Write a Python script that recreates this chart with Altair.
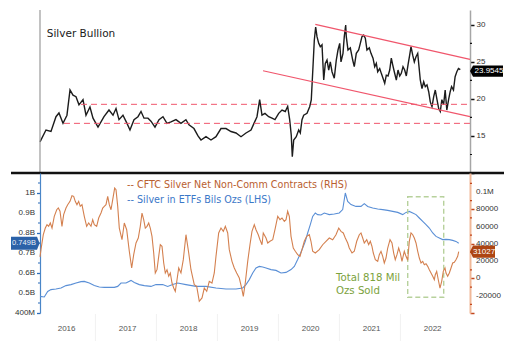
import altair as alt
import pandas as pd

# ---------------- data (time in decimal years) ----------------
price_t = [2016.092, 2016.190, 2016.272, 2016.354, 2016.403, 2016.469, 2016.534, 2016.584, 2016.633, 2016.682,
           2016.731, 2016.797, 2016.846, 2016.911, 2016.961, 2017.043, 2017.141, 2017.223, 2017.289, 2017.338,
           2017.387, 2017.452, 2017.518, 2017.567, 2017.633, 2017.698, 2017.748, 2017.797, 2017.862, 2017.911,
           2017.977, 2018.043, 2018.108, 2018.174, 2018.239, 2018.321, 2018.403, 2018.484, 2018.534, 2018.616,
           2018.682, 2018.731, 2018.813, 2018.895, 2018.977, 2019.059, 2019.141, 2019.223, 2019.305, 2019.387,
           2019.469, 2019.551, 2019.600, 2019.649, 2019.693, 2019.731, 2019.780, 2019.841, 2019.895, 2019.944,
           2020.005, 2020.059, 2020.113, 2020.152, 2020.185, 2020.211, 2020.228, 2020.251, 2020.293, 2020.333,
           2020.359, 2020.387, 2020.415, 2020.469, 2020.513, 2020.539, 2020.567, 2020.589, 2020.611, 2020.633,
           2020.661, 2020.687, 2020.715, 2020.743, 2020.769, 2020.797, 2020.825, 2020.851, 2020.879, 2020.916,
           2020.949, 2020.977, 2021.005, 2021.026, 2021.059, 2021.080, 2021.103, 2021.113, 2021.141, 2021.179,
           2021.218, 2021.244, 2021.277, 2021.316, 2021.343, 2021.370, 2021.398, 2021.425, 2021.452, 2021.490,
           2021.518, 2021.551, 2021.579, 2021.605, 2021.628, 2021.661, 2021.687, 2021.715, 2021.743, 2021.769,
           2021.797, 2021.825, 2021.851, 2021.874, 2021.900, 2021.933, 2021.961, 2021.989, 2022.015, 2022.043,
           2022.070, 2022.097, 2022.125, 2022.152, 2022.174, 2022.202, 2022.228, 2022.256, 2022.284, 2022.305,
           2022.326, 2022.354, 2022.382, 2022.408, 2022.436, 2022.464, 2022.490, 2022.518, 2022.546, 2022.572,
           2022.600, 2022.628, 2022.654, 2022.680, 2022.708, 2022.734, 2022.761, 2022.790, 2022.816, 2022.839,
           2022.870, 2022.897, 2022.925, 2022.952, 2022.982]
price_v = [14.2, 15.8, 15.6, 17.6, 18.1, 16.7, 17.8, 21.2, 20.5, 20.3,
           19.2, 19.9, 17.8, 18.9, 17.4, 16.2, 17.6, 18.5, 17.8, 18.7,
           17.2, 17.8, 16.7, 15.8, 17.2, 17.6, 18.3, 17.4, 17.4, 17.0,
           16.2, 17.2, 17.6, 16.7, 16.9, 17.2, 16.7, 17.2, 16.5, 16.0,
           15.0, 14.45, 14.9, 14.45, 14.9, 16.0, 16.0, 15.6, 15.4, 14.9,
           15.4, 15.8, 16.7, 17.6, 19.9, 17.8, 18.05, 17.6, 17.4, 17.2,
           18.05, 18.5, 18.3, 19.0, 17.2, 15.1, 12.2, 14.45, 14.9, 15.8,
           15.4, 17.2, 17.8, 18.05, 18.95, 19.85, 24.35, 27.95, 29.7, 28.4,
           27.5, 27.05, 27.3, 22.55, 24.8, 25.25, 23.9, 25.0, 23.67, 22.8,
           25.25, 26.6, 27.5, 25.0, 26.15, 28.4, 29.97, 28.4, 26.6, 26.9,
           25.25, 24.35, 26.15, 26.6, 27.5, 28.4, 28.6, 28.2, 26.6, 26.9,
           26.15, 25.5, 24.35, 24.8, 23.67, 24.1, 23.45, 22.8, 22.1, 23.2,
           23.1, 23.9, 25.5, 24.6, 23.67, 22.55, 23.9, 23.1, 23.45, 24.35,
           23.9, 23.1, 24.6, 25.9, 27.05, 25.9, 25.0, 25.7, 26.15, 24.35,
           22.55, 21.4, 22.3, 21.65, 21.9, 20.97, 19.6, 18.95, 20.3, 21.2,
           19.9, 18.7, 18.3, 19.9, 19.2, 21.2, 18.5, 19.9, 20.97, 21.65,
           21.2, 23.0, 23.67, 24.1, 23.95]

cftc_t = [2016.092, 2016.108, 2016.146, 2016.179, 2016.207, 2016.234, 2016.261, 2016.289, 2016.326, 2016.366,
          2016.392, 2016.420, 2016.452, 2016.480, 2016.518, 2016.546, 2016.584, 2016.616, 2016.644, 2016.670,
          2016.698, 2016.726, 2016.752, 2016.780, 2016.818, 2016.857, 2016.890, 2016.928, 2016.956, 2016.982,
          2017.021, 2017.054, 2017.092, 2017.120, 2017.146, 2017.174, 2017.202, 2017.228, 2017.256, 2017.284,
          2017.316, 2017.338, 2017.366, 2017.392, 2017.436, 2017.474, 2017.513, 2017.556, 2017.595, 2017.628,
          2017.666, 2017.703, 2017.736, 2017.764, 2017.792, 2017.818, 2017.846, 2017.874, 2017.900, 2017.928,
          2017.956, 2017.982, 2018.010, 2018.038, 2018.064, 2018.092, 2018.120, 2018.146, 2018.174, 2018.202,
          2018.228, 2018.256, 2018.284, 2018.310, 2018.338, 2018.366, 2018.403, 2018.441, 2018.485, 2018.530,
          2018.567, 2018.621, 2018.661, 2018.703, 2018.748, 2018.785, 2018.825, 2018.867, 2018.911, 2018.949,
          2018.977, 2019.021, 2019.059, 2019.097, 2019.130, 2019.169, 2019.195, 2019.239, 2019.277, 2019.316,
          2019.359, 2019.398, 2019.425, 2019.457, 2019.497, 2019.534, 2019.567, 2019.605, 2019.633, 2019.670,
          2019.698, 2019.731, 2019.752, 2019.797, 2019.825, 2019.862, 2019.907, 2019.949, 2019.989, 2020.026,
          2020.059, 2020.097, 2020.125, 2020.152, 2020.179, 2020.207, 2020.244, 2020.277, 2020.316, 2020.354,
          2020.387, 2020.425, 2020.464, 2020.507, 2020.534, 2020.562, 2020.605, 2020.670, 2020.726, 2020.780,
          2020.834, 2020.890, 2020.944, 2020.989, 2021.026, 2021.064, 2021.097, 2021.136, 2021.162, 2021.207,
          2021.244, 2021.284, 2021.326, 2021.354, 2021.382, 2021.408, 2021.448, 2021.480, 2021.507, 2021.534,
          2021.556, 2021.589, 2021.628, 2021.654, 2021.682, 2021.710, 2021.736, 2021.764, 2021.792, 2021.830,
          2021.862, 2021.890, 2021.916, 2021.944, 2021.972, 2021.998, 2022.026, 2022.064, 2022.092, 2022.120,
          2022.146, 2022.174, 2022.202, 2022.228, 2022.256, 2022.284, 2022.310, 2022.338, 2022.366, 2022.392,
          2022.420, 2022.448, 2022.474, 2022.502, 2022.530, 2022.556, 2022.572, 2022.595, 2022.621, 2022.649,
          2022.677, 2022.703, 2022.731, 2022.748, 2022.775, 2022.802, 2022.830, 2022.857, 2022.884, 2022.911,
          2022.939, 2022.956]
cftc_v = [25000, 33300, 50600, 58300, 62200, 60300, 64100, 58300, 71900, 79500,
          81500, 77700, 60300, 73800, 81500, 85300, 89200, 95700, 95000, 89200,
          85300, 89200, 83400, 85300, 71900, 60300, 64100, 60300, 68000, 62200,
          60300, 69900, 75700, 81500, 83400, 85300, 95000, 85300, 79500, 91100,
          104600, 102700, 83400, 58300, 44800, 64100, 56400, 31400, 12100, 27500,
          41000, 46800, 60300, 75700, 68000, 58300, 60300, 64100, 58300, 48700,
          29400, 6300, 10100, 25600, 39000, 37200, 17900, 6300, 10100, 2500,
          6300, -5300, -11100, -14900, -1500, 12100, 6300, 21700, 50600, 29400,
          10100, -7300, -9100, -26500, -22600, -11100, -14900, -3300, -5300, 6300,
          25600, 52600, 58300, 54500, 60300, 52600, 33300, 19800, 12100, 6300,
          500, -11100, -20700, -5300, 19800, 39000, 54500, 62200, 56400, 50600,
          44800, 39000, 52600, 46800, 41000, 43000, 44800, 58300, 71900, 68000,
          69900, 66100, 68000, 77700, 71900, 48700, 35200, 31400, 27500, 25600,
          33300, 43000, 48700, 50600, 43000, 31400, 29400, 33300, 39000, 43000,
          46800, 44800, 50600, 58300, 54500, 52600, 46800, 41000, 35200, 29400,
          31400, 43000, 50600, 52600, 46800, 41000, 44800, 39000, 43000, 37200,
          29400, 21700, 19800, 27500, 31400, 25600, 17900, 23600, 35200, 44800,
          41000, 29400, 21700, 27500, 35200, 29400, 19800, 31400, 25600, 21000,
          43000, 52600, 50600, 46800, 41000, 31400, 23600, 17900, 19800, 15900,
          17000, 14000, 10100, 6300, 2500, -1500, 4300, 8200, -1500, -11100,
          -3300, 8200, 12100, 6300, 2500, 6300, 12100, 17900, 18700, 21700,
          25600, 31027]

etf_t = [2016.092, 2016.162, 2016.218, 2016.272, 2016.354, 2016.436, 2016.518, 2016.600, 2016.682, 2016.764,
         2016.818, 2016.900, 2016.982, 2017.064, 2017.146, 2017.228, 2017.310, 2017.366, 2017.420, 2017.502,
         2017.584, 2017.638, 2017.720, 2017.802, 2017.911, 2017.993, 2018.103, 2018.185, 2018.267, 2018.349,
         2018.485, 2018.649, 2018.813, 2018.977, 2019.141, 2019.305, 2019.415, 2019.469, 2019.523, 2019.579,
         2019.633, 2019.687, 2019.743, 2019.797, 2019.879, 2019.961, 2020.043, 2020.125, 2020.207, 2020.261,
         2020.316, 2020.354, 2020.398, 2020.441, 2020.480, 2020.523, 2020.562, 2020.605, 2020.644, 2020.698,
         2020.752, 2020.834, 2020.916, 2020.998, 2021.054, 2021.097, 2021.136, 2021.190, 2021.272, 2021.354,
         2021.408, 2021.464, 2021.546, 2021.628, 2021.710, 2021.792, 2021.874, 2021.956, 2022.038, 2022.092,
         2022.146, 2022.202, 2022.256, 2022.310, 2022.366, 2022.420, 2022.474, 2022.530, 2022.584, 2022.638,
         2022.693, 2022.748, 2022.802, 2022.857, 2022.911, 2022.956]
etf_v = [0.483, 0.48, 0.508, 0.517, 0.52, 0.525, 0.537, 0.542, 0.55, 0.557,
         0.558, 0.55, 0.537, 0.53, 0.528, 0.528, 0.528, 0.533, 0.55, 0.55,
         0.563, 0.553, 0.542, 0.537, 0.533, 0.542, 0.542, 0.533, 0.542, 0.55,
         0.542, 0.533, 0.533, 0.525, 0.52, 0.52, 0.525, 0.542, 0.567, 0.6,
         0.625, 0.633, 0.63, 0.625, 0.617, 0.613, 0.6, 0.603, 0.617, 0.633,
         0.667, 0.692, 0.725, 0.758, 0.8, 0.842, 0.883, 0.9, 0.892, 0.89,
         0.9, 0.892, 0.895, 0.9, 0.917, 1.0, 0.958, 0.942, 0.933, 0.933,
         0.947, 0.933, 0.925, 0.92, 0.917, 0.913, 0.908, 0.903, 0.892, 0.903,
         0.908, 0.9, 0.892, 0.875, 0.858, 0.842, 0.825, 0.8, 0.783, 0.775,
         0.767, 0.768, 0.767, 0.763, 0.758, 0.749]

# support levels (dashed) and the falling channel
level_t0 = [2016.764, 2016.485]
level_t1 = [2023.141, 2023.141]
level_v = [19.27, 16.7]
chan_t0 = [2020.605, 2019.748]
chan_v0 = [30.07, 23.8]
chan_t1 = [2023.141, 2023.141]
chan_v1 = [25.34, 17.6]

# highlighted box (ETF outflow period)
hl_t = [2022.120, 2022.710]
hl_b = [0.9815, 0.4785]

year_labels = [2016, 2017, 2018, 2019, 2020, 2021, 2022]
year_starts = [2017, 2018, 2019, 2020, 2021, 2022]

# axis tick values and labels
price_major = [10, 15, 20, 25, 30]
price_minor = [12.5, 17.5, 22.5, 27.5]
etf_major = [0.4, 0.5, 0.6, 0.7, 0.8, 0.9, 1.0]
etf_labels = ["400M", "0.5B", "0.6B", "0.7B", "0.8B", "0.9B", "1B"]
etf_minor = [0.45, 0.55, 0.65, 0.75, 0.85, 0.95, 1.05]
cftc_major = [-40000, -20000, 0, 20000, 40000, 60000, 80000, 100000]
cftc_label_v = [-20000, 0, 20000, 40000, 60000, 80000, 100000]
cftc_labels = ["-20000", "0", "20000", "40000", "60000", "80000", "0.1M"]
cftc_minor = [-30000, -10000, 10000, 30000, 50000, 70000, 90000, 110000]

last_price = 23.9545
last_cftc = 31027
last_etf = 0.749

title_text = "Silver Bullion"
legend_cftc = "-- CFTC Silver Net Non-Comm Contracts (RHS)"
legend_etf = "-- Silver in ETFs Bils Ozs (LHS)"
note_lines = ["Total 818 Mil", "Ozs Sold"]

X_DOMAIN = [2016.092, 2023.141]
W, H_TOP, H_BOT = 430, 163, 140

RED = "#f0566c"
ORANGE = "#d4804f"
BLUE = "#5a8fd6"
GREEN = "#7ba23c"
LAB = "Liberation Sans"

xsc = alt.Scale(domain=X_DOMAIN, nice=False, zero=False)
ysc_top = alt.Scale(domain=[10, 32], nice=False, zero=False)
ysc_etf = alt.Scale(domain=[0.4, 1.1], nice=False, zero=False)
ysc_cftc = alt.Scale(domain=[-40000, 122000], nice=False, zero=False)

XN = alt.X("t:Q", scale=xsc, axis=None)     # top panel: no x axis at all
XB = alt.X("t:Q", scale=xsc)                # bottom panel: merged with the year axis
one = pd.DataFrame({"a": [0]})

# ---------------- top panel ----------------
top_axis = alt.Axis(
    orient="right", values=price_major,
    labelExpr="datum.value > 10 ? datum.value : ''",
    title=None, grid=False, domainColor="#a6a6a6", domainWidth=1.5,
    tickColor="#111111", tickWidth=1.5, tickSize=4,
    labelFont=LAB, labelFontSize=8, labelColor="#333333", labelPadding=2,
    labelOverlap=False, labelFlush=False)

YT = alt.Y("v:Q", scale=ysc_top)

price_line = alt.Chart(pd.DataFrame({"t": price_t, "v": price_v})).mark_line(
    color="#1c1c1c", strokeWidth=1.4).encode(
    x=XN, y=alt.Y("v:Q", scale=ysc_top, axis=top_axis))

price_minor_ticks = alt.Chart(pd.DataFrame({"v": price_minor})).mark_rule(
    color="#111111", strokeWidth=1.2).encode(
    x=alt.value(W), x2=alt.value(W + 2), y=YT)

levels = alt.Chart(pd.DataFrame({"t0": level_t0, "t1": level_t1, "v": level_v})).mark_rule(
    color=RED, strokeDash=[6, 4], strokeWidth=1).encode(
    x=alt.X("t0:Q", scale=xsc, axis=None), x2="t1:Q", y=YT)

channel = alt.Chart(pd.DataFrame({"t0": chan_t0, "t1": chan_t1, "v": chan_v0, "v1": chan_v1})).mark_rule(
    color=RED, strokeWidth=1.2).encode(
    x=alt.X("t0:Q", scale=xsc, axis=None), x2="t1:Q", y=YT, y2="v1:Q")

title_df = pd.DataFrame({"t": [2016.202], "v": [28.76], "label": [title_text]})
title_txt = alt.Chart(title_df).mark_text(
    align="left", baseline="middle", font="DejaVu Sans", fontSize=10.5, color="#1a1a1a").encode(
    x=XN, y=YT, text="label:N")

left_line = alt.Chart(one).mark_rule(color="#9a9a9a", strokeWidth=1.2).encode(
    x=alt.value(0), y=alt.value(0), y2=alt.value(H_TOP))

price_box_df = pd.DataFrame({"v": [last_price], "label": [str(last_price)]})
price_box = alt.Chart(price_box_df).mark_point(
    shape="M-1.2,0L-1,-0.37L1,-0.37L1,0.37L-1,0.37Z", size=900, filled=True,
    fill="#000000", opacity=1, strokeWidth=0, yOffset=1.5).encode(x=alt.value(448), y=YT)
price_box_txt = alt.Chart(price_box_df).mark_text(
    font=LAB, fontSize=8, color="#ffffff", align="center", baseline="middle", dy=1.5).encode(
    x=alt.value(449), y=YT, text="label:N")

sep_line = alt.Chart(one).mark_rule(color="#111111", strokeWidth=2.5).encode(
    x=alt.value(-29), x2=alt.value(464), y=alt.value(H_TOP))

top = alt.layer(price_line, price_minor_ticks, levels, channel, title_txt, left_line,
                price_box, price_box_txt, sep_line).properties(width=W, height=H_TOP)

# ---------------- bottom panel ----------------
x_axis = alt.Axis(values=[y + 0.52 for y in year_labels], labelExpr="floor(datum.value)",
                  tickSize=0, domain=False, grid=False, labelPadding=11, title=None,
                  labelFont=LAB, labelFontSize=8, labelColor="#555555",
                  labelOverlap=False, labelFlush=False)

etf_axis = alt.Axis(
    orient="left", values=etf_major, labels=False,
    title=None, grid=False, domainColor="#4a86c8", domainWidth=1.2,
    tickColor="#2d6db8", tickWidth=1.3, tickSize=3.5)

cftc_axis = alt.Axis(
    orient="right", values=cftc_major, labels=False,
    title=None, grid=False, domainColor="#f0b898", domainWidth=2,
    tickColor="#c2461c", tickWidth=1.5, tickSize=4)

YE = alt.Y("v:Q", scale=ysc_etf)
YC = alt.Y("v:Q", scale=ysc_cftc)

etf_line = alt.Chart(pd.DataFrame({"t": etf_t, "v": etf_v})).mark_line(
    color=BLUE, strokeWidth=1.1).encode(
    x=alt.X("t:Q", scale=xsc, axis=x_axis),
    y=alt.Y("v:Q", scale=ysc_etf, axis=etf_axis))

etf_tick_labels = alt.Chart(pd.DataFrame({"v": etf_major, "label": etf_labels})).mark_text(
    align="right", baseline="middle", font=LAB, fontSize=8, color="#333333").encode(
    x=alt.value(-5), y=YE, text="label:N")

year_rules = alt.Chart(pd.DataFrame({"t": year_starts})).mark_rule(
    color="#f1f1f1", strokeWidth=1).encode(
    x=XB, y=alt.value(H_BOT + 1), y2=alt.value(H_BOT + 28))

etf_minor_ticks = alt.Chart(pd.DataFrame({"v": etf_minor})).mark_rule(
    color="#2d6db8", strokeWidth=1.2).encode(
    x=alt.value(-2), x2=alt.value(0), y=YE)

hl_rect = alt.Chart(pd.DataFrame({"t": [hl_t[0]], "t1": [hl_t[1]], "v": [hl_b[0]], "v1": [hl_b[1]]})).mark_rect(
    stroke="#b7d19c", strokeDash=[5, 3], strokeWidth=1.4, fill="#ffffff", fillOpacity=0).encode(
    x=XB, x2="t1:Q", y=YE, y2="v1:Q")

note_df = pd.DataFrame({"t": [2020.944, 2020.944], "v": [0.5765, 0.5115], "label": note_lines})
note_txt = alt.Chart(note_df).mark_text(
    align="left", baseline="middle", font="DejaVu Sans", fontSize=10.2, color=GREEN).encode(
    x=XB, y=YE, text="label:N")

leg1 = alt.Chart(pd.DataFrame({"t": [2017.518], "v": [1.04], "label": [legend_cftc]})).mark_text(
    align="left", baseline="middle", font="DejaVu Sans", fontSize=9.6, color="#b9602f").encode(
    x=XB, y=YE, text="label:N")
leg2 = alt.Chart(pd.DataFrame({"t": [2017.518], "v": [0.965], "label": [legend_etf]})).mark_text(
    align="left", baseline="middle", font="DejaVu Sans", fontSize=9.6, color="#3c78c8").encode(
    x=XB, y=YE, text="label:N")

etf_box_df = pd.DataFrame({"v": [last_etf], "label": [f"{last_etf}B"]})
etf_box = alt.Chart(etf_box_df).mark_point(
    shape="M-1,-0.5L1,-0.5L1.2,0L1,0.5L-1,0.5Z", size=676, filled=True,
    fill="#2b62a8", opacity=1, strokeWidth=0).encode(x=alt.value(-16), y=YE)
etf_box_txt = alt.Chart(etf_box_df).mark_text(
    font=LAB, fontSize=7.5, color="#e8eef8", align="center", baseline="middle").encode(
    x=alt.value(-16), y=YE, text="label:N")

cftc_line = alt.Chart(pd.DataFrame({"t": cftc_t, "v": cftc_v})).mark_line(
    color=ORANGE, strokeWidth=1.1).encode(
    x=XB, y=alt.Y("v:Q", scale=ysc_cftc, axis=cftc_axis))

cftc_tick_labels = alt.Chart(pd.DataFrame({"v": cftc_label_v, "label": cftc_labels})).mark_text(
    align="left", baseline="middle", font=LAB, fontSize=8, color="#333333").encode(
    x=alt.value(W + 6), y=YC, text="label:N")

cftc_minor_ticks = alt.Chart(pd.DataFrame({"v": cftc_minor})).mark_rule(
    color="#c2461c", strokeWidth=1.2).encode(
    x=alt.value(W), x2=alt.value(W + 2), y=YC)

cftc_box_df = pd.DataFrame({"v": [last_cftc], "label": [str(last_cftc)]})
cftc_box = alt.Chart(cftc_box_df).mark_point(
    shape="M-1.27,0L-1,-0.55L1,-0.55L1,0.55L-1,0.55Z", size=484, filled=True,
    fill="#ad4512", opacity=1, strokeWidth=0).encode(x=alt.value(444), y=YC)
cftc_box_txt = alt.Chart(cftc_box_df).mark_text(
    font=LAB, fontSize=8, color="#ffffff", align="center", baseline="middle").encode(
    x=alt.value(444), y=YC, text="label:N")

left_group = alt.layer(etf_line, etf_tick_labels, year_rules, etf_minor_ticks, hl_rect, note_txt,
                       leg1, leg2, etf_box, etf_box_txt)
right_group = alt.layer(cftc_line, cftc_tick_labels, cftc_minor_ticks, cftc_box, cftc_box_txt)
bottom = alt.layer(left_group, right_group).resolve_scale(y="independent").properties(width=W, height=H_BOT)

chart = alt.vconcat(top, bottom, spacing=0, bounds="flush").properties(
    padding={"left": 9, "top": 9, "right": 5, "bottom": 5},
    background="white",
).configure_view(strokeWidth=0).configure_axis(labelOverlap=False)

chart.save("out.html", embed_options={"renderer": "svg", "actions": False})
